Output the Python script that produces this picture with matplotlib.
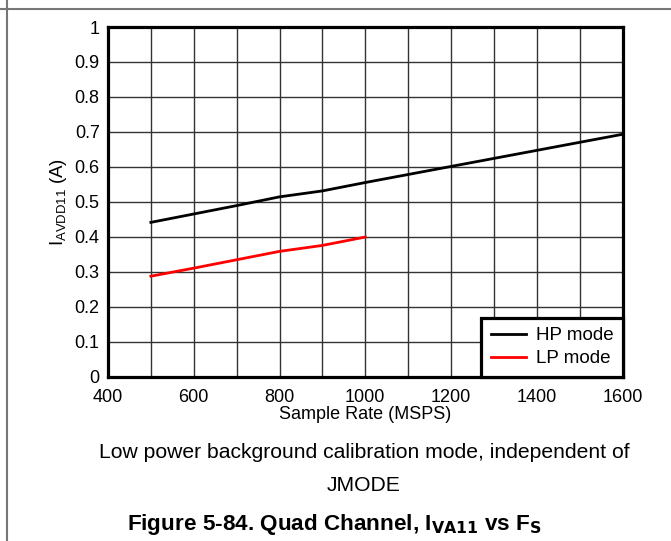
import numpy as np
import matplotlib.pyplot as plt
from matplotlib.lines import Line2D

plt.rcParams['font.family'] = ['Liberation Sans', 'DejaVu Sans']

# data
hp_rate = [500, 600, 700, 800, 900, 1000, 1100, 1200, 1300, 1400, 1500, 1600]
hp_current = [0.441, 0.465, 0.489, 0.514, 0.531, 0.555, 0.578, 0.601, 0.624, 0.647, 0.670, 0.693]
lp_rate = [500, 600, 700, 800, 900, 1000]
lp_current = [0.287, 0.310, 0.334, 0.358, 0.375, 0.399]

x_ticks = [400, 600, 800, 1000, 1200, 1400, 1600]
y_ticks = [0, 0.1, 0.2, 0.3, 0.4, 0.5, 0.6, 0.7, 0.8, 0.9, 1]
y_labels = ['0', '0.1', '0.2', '0.3', '0.4', '0.5', '0.6', '0.7', '0.8', '0.9', '1']

fig = plt.figure(figsize=(6.71, 5.41), dpi=100)
ax = fig.add_axes([108 / 671, 1 - 376.5 / 541, 514.5 / 671, 349.5 / 541])

ax.plot(hp_rate, hp_current, color='black', lw=2, label='HP mode')
ax.plot(lp_rate, lp_current, color='red', lw=2, label='LP mode')

ax.set_xlim(400, 1600)
ax.set_ylim(0, 1)
ax.set_xticks(x_ticks)
ax.set_xticks(np.arange(400, 1601, 100), minor=True)
ax.set_yticks(y_ticks)
ax.set_yticklabels(y_labels)
ax.grid(True, which='both', color='#333333', lw=1)
ax.tick_params(which='both', length=0, labelsize=13)
ax.tick_params(axis='x', pad=9)
ax.tick_params(axis='y', pad=6)
for s in ax.spines.values():
    s.set_linewidth(2.3)

ax.set_xlabel('Sample Rate (MSPS)', fontsize=13, labelpad=0)
ax.set_ylabel(r'I$_\mathregular{AVDD11}$ (A)', fontsize=13.5, labelpad=4)

leg = ax.legend(loc='lower right', fontsize=13.5, fancybox=False, framealpha=1,
                edgecolor='black', borderpad=0.5, handlelength=1.9,
                handletextpad=0.5, labelspacing=0.3, borderaxespad=0)
leg.get_frame().set_linewidth(2.3)

fig.text(364 / 671, 1 - 458 / 541, 'Low power background calibration mode, independent of',
         ha='center', va='baseline', fontsize=15.2)
fig.text(364 / 671, 1 - 491 / 541, 'JMODE', ha='center', va='baseline', fontsize=15.2)
fig.text(334 / 671, 1 - 530 / 541,
         r'Figure 5-84. Quad Channel, I$_\mathregular{\bf VA11}$ vs F$_\mathregular{\bf S}$',
         ha='center', va='baseline', fontsize=16.2, fontweight='bold')

# page frame lines
fig.add_artist(Line2D([0, 1], [1 - 8.5 / 541, 1 - 8.5 / 541], color='#777777', lw=1.5))
fig.add_artist(Line2D([7 / 671, 7 / 671], [0, 1], color='#777777', lw=1.5))

fig.savefig('out.png', dpi=100)
